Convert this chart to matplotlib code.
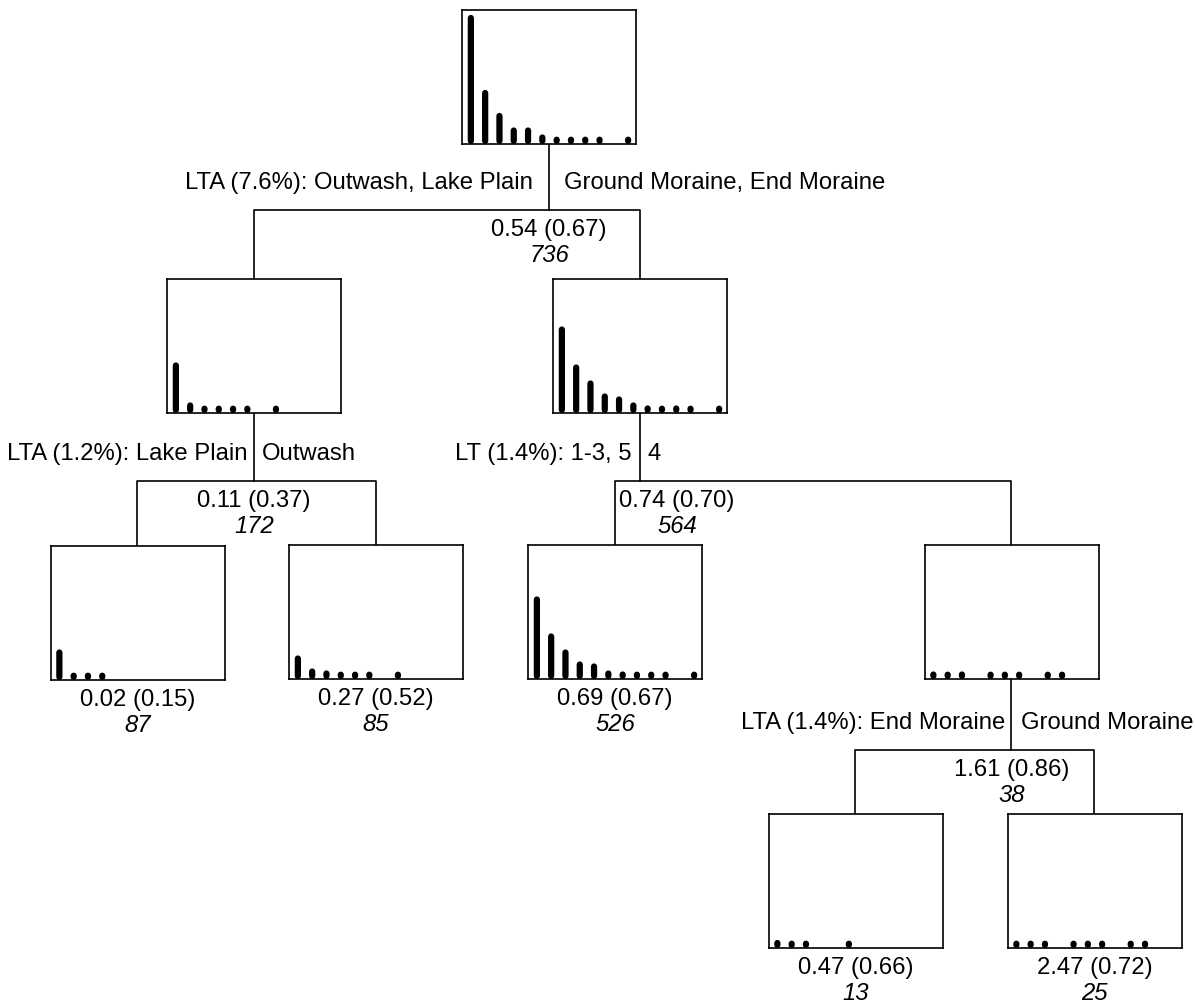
import numpy as np
import matplotlib
matplotlib.use("Agg")
import matplotlib.pyplot as plt

W, H = 1195, 1003
plt.rcParams['font.family'] = ['Liberation Sans', 'DejaVu Sans']

# bar heights for count classes 0..11 (nan = empty class)
classes = np.arange(12)
hist_736 = [126, 51, 28, 13.5, 13.5, 6.5, 2.5, 1.5, 1.5, 1.5, np.nan, 1.5]
hist_172 = [47.5, 7.5, 3.5, 1, 1, 1, np.nan, 1]
hist_564 = [83.5, 45.5, 29.5, 16.5, 13.5, 7.5, 4.5, 2.5, 4.5, 2.5, np.nan, 2.5]
hist_87 = [27.5, 2, 1.5, 1.5]
hist_85 = [20.5, 7.5, 5.5, 2.5, 3, 2.5, np.nan, 2.5]
hist_526 = [79.5, 42.5, 26.5, 14.5, 12.5, 5.5, 4.5, 2.5, 2.5, 2.5, np.nan, 2.5]
hist_38 = [4.5, 3, 4.5, np.nan, 3, 3, 1.5, np.nan, 2, 2]
hist_13 = [5, 2, 3.5, np.nan, np.nan, 2]
hist_25 = [3.5, 3.5, 4, np.nan, 3.5, 3.5, 2.5, np.nan, 3, 2.5]

node_names = ["736", "172", "564", "87", "85", "526", "38", "13", "25"]
node_means = [0.54, 0.11, 0.74, 0.02, 0.27, 0.69, 1.61, 0.47, 2.47]
node_sds = [0.67, 0.37, 0.70, 0.15, 0.52, 0.67, 0.86, 0.66, 0.72]
node_hists = [hist_736, hist_172, hist_564, hist_87, hist_85, hist_526,
              hist_38, hist_13, hist_25]

# splits: parent, left child, right child, left label, right label
splits = [
    ("736", "172", "564", "LTA (7.6%): Outwash, Lake Plain", "Ground Moraine, End Moraine"),
    ("172", "87", "85", "LTA (1.2%): Lake Plain", "Outwash"),
    ("564", "526", "38", "LT (1.4%): 1-3, 5", "4"),
    ("38", "13", "25", "LTA (1.4%): End Moraine", "Ground Moraine"),
]

# layout in pixels: box center x, box top y
BW, BH = 174, 134
box_pos = {"736": (549, 11), "172": (254, 280), "564": (640, 280),
           "87": (137.5, 547), "85": (376, 546), "526": (615, 546),
           "38": (1011.5, 546), "13": (855.5, 815), "25": (1094.5, 815)}
# split y (horizontal line), gaps left/right of the split line
split_y = {"736": 211, "172": 482, "564": 482, "38": 751}
label_gap = {"736": (16, 15), "172": (6, 8), "564": (8, 8), "38": (6, 10)}
stat_dx = {"564": 37}

FS = 17.2
fig = plt.figure(figsize=(W / 100, H / 100), dpi=100)
ax = fig.add_axes([0, 0, 1, 1])
ax.set_xlim(0, W)
ax.set_ylim(H, 0)
ax.axis("off")


def stat_text(x, y_mid, i):
    # mean (sd) on top, node size in italics below; y_mid = middle of first line
    ax.text(x, y_mid + 7, f"{node_means[i]:.2f} ({node_sds[i]:.2f})",
            ha="center", va="baseline", fontsize=FS)
    ax.text(x, y_mid + 33, node_names[i], ha="center", va="baseline",
            fontsize=FS, style="italic")


lw = 1.2
internal = set()
for parent, lc, rc, ltxt, rtxt in splits:
    internal.add(parent)
    px, pt = box_pos[parent]
    sy = split_y[parent]
    ax.plot([px, px], [pt + BH, sy], color="black", lw=lw)
    lx, lt = box_pos[lc]
    rx, rt = box_pos[rc]
    ax.plot([lx, lx, rx, rx], [lt, sy, sy, rt], color="black", lw=lw)
    gl, gr = label_gap[parent]
    ly = sy - 22
    ax.text(px - gl, ly, ltxt, ha="right", va="baseline", fontsize=FS)
    ax.text(px + gr, ly, rtxt, ha="left", va="baseline", fontsize=FS)
    stat_text(px + stat_dx.get(parent, 0), sy + 18, node_names.index(parent))

rad = 3.1  # half bar width in pixels (= data units on y)
for i, name in enumerate(node_names):
    cx, top = box_pos[name]
    left = cx - BW / 2
    bax = fig.add_axes([left / W, 1 - (top + BH) / H, BW / W, BH / H])
    vals = np.array(node_hists[i], dtype=float)
    xs = classes[:len(vals)]
    ok = ~np.isnan(vals)
    bax.vlines(xs[ok], rad, np.maximum(vals[ok], rad + 1.2), colors="black",
               linewidth=4.5, capstyle="round", clip_on=False, zorder=3,
               snap=False)
    bax.set_xlim(-0.62, 11.55)
    bax.set_ylim(0, BH)
    bax.set_xticks([])
    bax.set_yticks([])
    for sp in bax.spines.values():
        sp.set_linewidth(1.2)
    if name not in internal:
        stat_text(cx, top + BH + 18, i)

fig.savefig("out.png", dpi=100)
